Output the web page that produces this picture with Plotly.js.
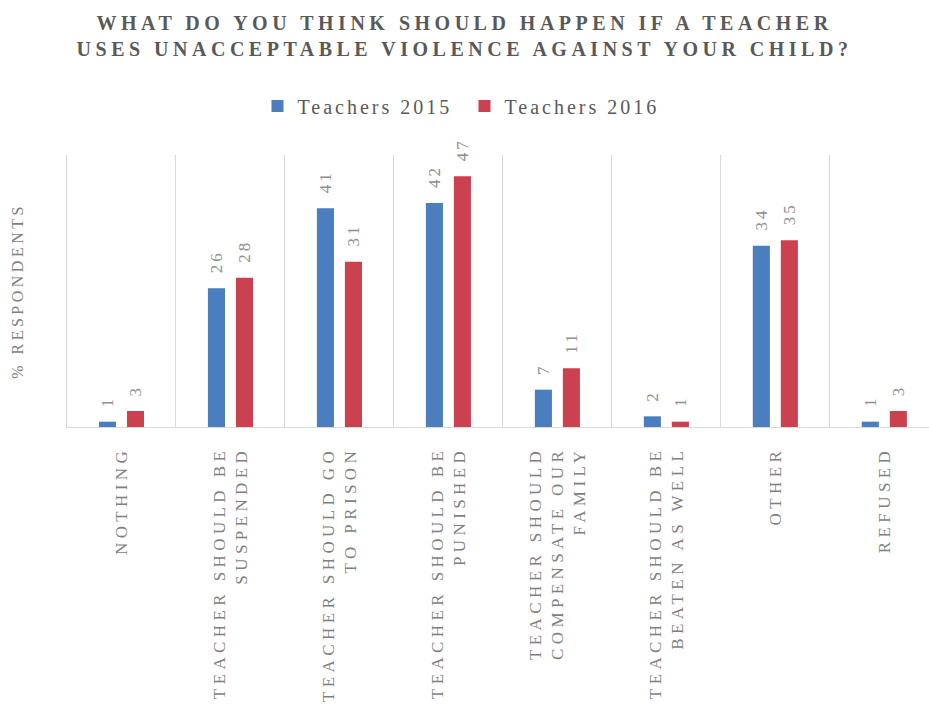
<!DOCTYPE html>
<html>
<head>
<meta charset="utf-8">
<script src="https://cdn.plot.ly/plotly-3.0.1.min.js"></script>
<style>
  html, body { margin: 0; padding: 0; background: #fff; }
  #chart { width: 929px; height: 718px; }
  .gtitle { letter-spacing: 4.5px; }
  .xtick text { letter-spacing: 4.4px; }
  .ytitle { letter-spacing: 3.5px; }
  .legendtext { letter-spacing: 3px; }
  .annotation-text { letter-spacing: 3px; }
</style>
</head>
<body>
<div id="chart"></div>
<script>
const categories = [
  "NOTHING",
  "TEACHER SHOULD BE<br>SUSPENDED",
  "TEACHER SHOULD GO<br>TO PRISON",
  "TEACHER SHOULD BE<br>PUNISHED",
  "TEACHER SHOULD<br>COMPENSATE OUR<br>FAMILY",
  "TEACHER SHOULD BE<br>BEATEN AS WELL",
  "OTHER",
  "REFUSED"
];
const seriesNames = ["Teachers 2015", "Teachers 2016"];
const teachers2015 = [1, 26, 41, 42, 7, 2, 34, 1];
const teachers2016 = [3, 28, 31, 47, 11, 1, 35, 3];
const seriesColors = ["#4a7ebf", "#cc4150"];

const serif = "Liberation Serif, Times New Roman, serif";
const seriesValues = [teachers2015, teachers2016];

const traces = seriesValues.map((vals, i) => ({
  type: "bar",
  name: seriesNames[i],
  x: categories,
  y: vals,
  marker: { color: seriesColors[i] },
  hoverinfo: "x+y"
}));

const annotations = [];
seriesValues.forEach((vals, i) => {
  vals.forEach((v, j) => {
    annotations.push({
      x: categories[j], y: v, xref: "x", yref: "y",
      text: String(v), showarrow: false, textangle: -90,
      xanchor: "center", yanchor: "bottom",
      xshift: i === 0 ? -14 : 14, yshift: 13,
      font: { family: serif, size: 17, color: "#8f8f8f" }
    });
  });
});

const layout = {
  width: 929, height: 718,
  margin: { l: 67, r: 0, t: 155, b: 291, pad: 0 },
  paper_bgcolor: "#ffffff", plot_bgcolor: "#ffffff",
  barmode: "group", bargap: 0.486, bargroupgap: 0.39,
  title: {
    text: "<b>WHAT DO YOU THINK SHOULD HAPPEN IF A TEACHER<br>USES UNACCEPTABLE VIOLENCE AGAINST YOUR CHILD?</b>",
    font: { family: serif, size: 20, color: "#595959" },
    x: 0.5, xref: "container", xanchor: "center",
    y: 0.958, yref: "container", yanchor: "top"
  },
  showlegend: true,
  legend: {
    orientation: "h", xref: "container", x: 0.5, xanchor: "center",
    yref: "container", y: 1 - 106/718, yanchor: "middle",
    font: { family: serif, size: 20, color: "#595959" },
    entrywidth: 162, entrywidthmode: "pixels",
    itemwidth: 30, traceorder: "normal"
  },
  xaxis: {
    type: "category",
    range: [-0.5, 7.41],
    tickangle: -90,
    tickson: "boundaries",
    ticks: "",
    showgrid: true, gridcolor: "#d9d9d9", gridwidth: 1,
    showline: true, linecolor: "#d9d9d9", linewidth: 1,
    zeroline: false,
    tickfont: { family: serif, size: 17, color: "#7f7f7f" },
    ticklabelstandoff: 12,
    automargin: false,
    fixedrange: true
  },
  yaxis: {
    range: [0, 51],
    showticklabels: false, ticks: "",
    showgrid: false, zeroline: false,
    showline: true, linecolor: "#d9d9d9", linewidth: 1,
    title: { text: "% RESPONDENTS", standoff: 38,
             font: { family: serif, size: 16, color: "#7f7f7f" } },
    automargin: false,
    fixedrange: true
  },
  annotations: annotations
};

Plotly.newPlot("chart", traces, layout, { displayModeBar: false, staticPlot: true });
</script>
</body>
</html>
